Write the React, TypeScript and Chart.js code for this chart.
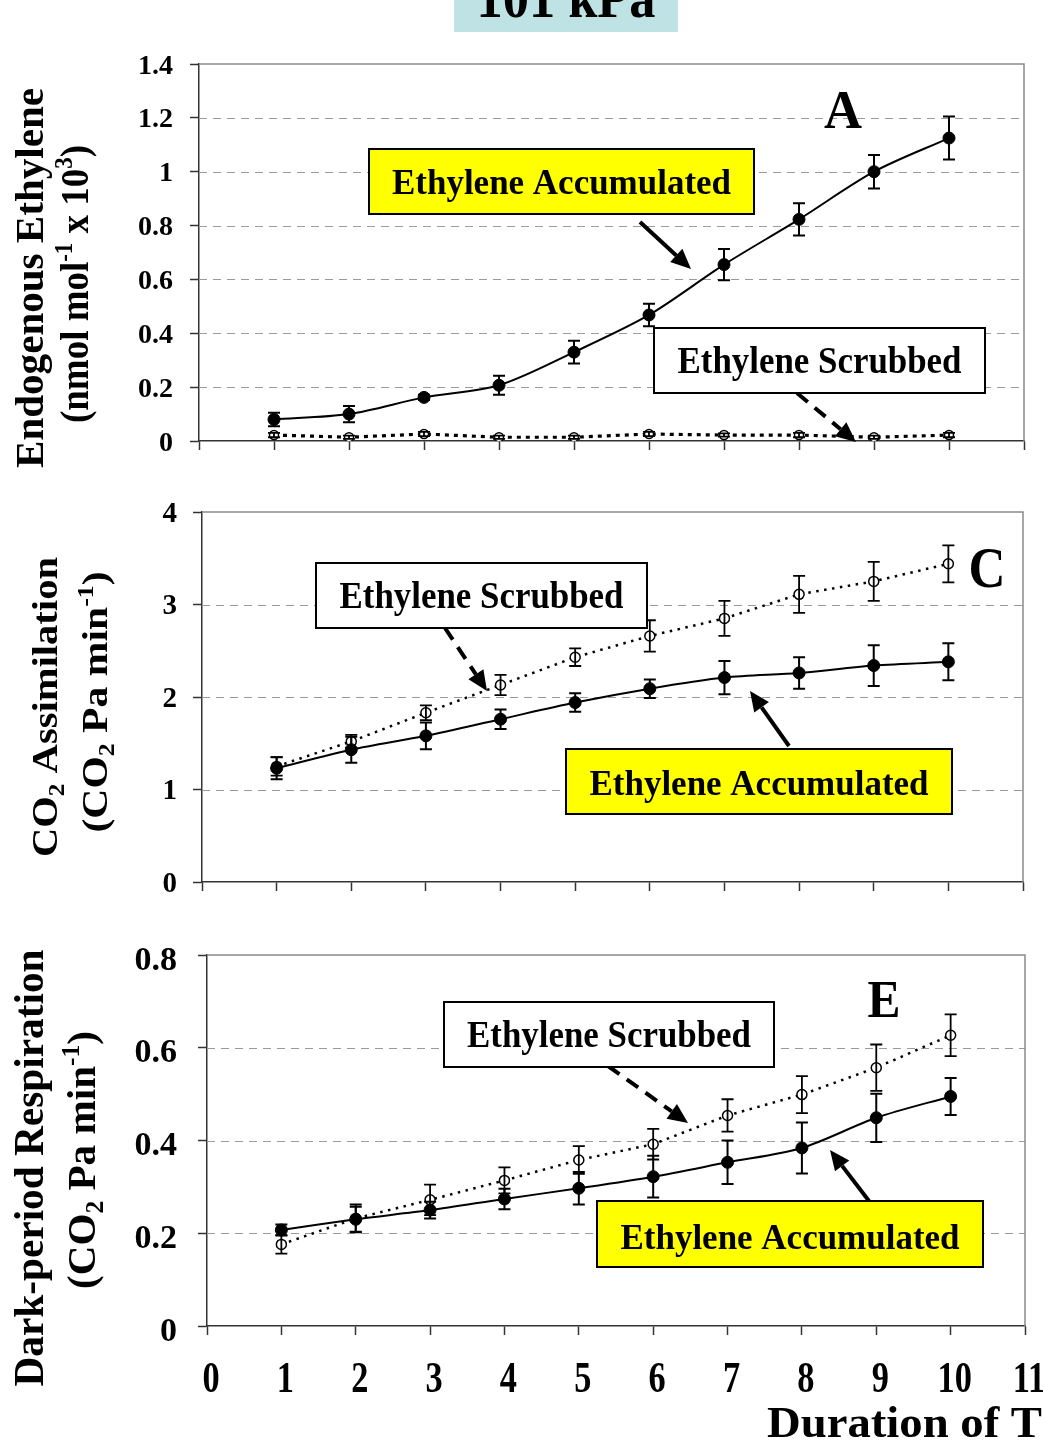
import React, { useEffect, useRef } from 'react';
import { Chart, registerables } from 'chart.js';

Chart.register(...registerables);

// ---------- data ----------
const days = [1, 2, 3, 4, 5, 6, 7, 8, 9, 10];
const xTickLabels = ['0', '1', '2', '3', '4', '5', '6', '7', '8', '9', '10', '11'];

// Panel A: endogenous ethylene (nmol mol-1 x 10^3)
const ethAccumulated = [0.08, 0.1, 0.162, 0.207, 0.33, 0.468, 0.655, 0.823, 1.0, 1.125];
const ethAccumulatedErr = [0.025, 0.03, 0.01, 0.035, 0.042, 0.042, 0.058, 0.06, 0.062, 0.08];
const ethScrubbed = [0.022, 0.014, 0.026, 0.014, 0.014, 0.026, 0.022, 0.022, 0.014, 0.022];
const ethScrubbedErr = [0.008, 0.006, 0.008, 0.006, 0.006, 0.008, 0.006, 0.008, 0.006, 0.008];

// Panel C: CO2 assimilation
const co2Accumulated = [1.23, 1.43, 1.58, 1.76, 1.94, 2.09, 2.21, 2.26, 2.34, 2.38];
const co2AccumulatedErr = [0.12, 0.14, 0.145, 0.105, 0.1, 0.1, 0.18, 0.17, 0.22, 0.2];
const co2Scrubbed = [1.25, 1.52, 1.83, 2.13, 2.43, 2.66, 2.85, 3.11, 3.25, 3.44];
const co2ScrubbedErr = [0.1, 0.07, 0.08, 0.11, 0.095, 0.17, 0.19, 0.2, 0.21, 0.2];

// Panel E: dark-period respiration
const respAccumulated = [0.207, 0.23, 0.25, 0.274, 0.297, 0.322, 0.353, 0.384, 0.449, 0.495];
const respAccumulatedErr = [0.012, 0.027, 0.018, 0.022, 0.035, 0.045, 0.047, 0.055, 0.052, 0.04];
const respScrubbed = [0.176, 0.232, 0.272, 0.314, 0.358, 0.392, 0.454, 0.499, 0.557, 0.627];
const respScrubbedErr = [0.02, 0.03, 0.033, 0.028, 0.03, 0.033, 0.035, 0.04, 0.05, 0.045];

const yTicksA = ['0', '0.2', '0.4', '0.6', '0.8', '1', '1.2', '1.4'];
const yTicksC = ['0', '1', '2', '3', '4'];
const yTicksE = ['0', '0.2', '0.4', '0.6', '0.8'];

const labelAccumulated = 'Ethylene Accumulated';
const labelScrubbed = 'Ethylene Scrubbed';
const headerText = '101 kPa';
const xAxisTitle = 'Duration of T';

// ---------- drawing helpers ----------
const FONT = "'Liberation Serif', 'Times New Roman', Times, serif";
type Seg = [string, string?];

function drawRich(
  ctx: CanvasRenderingContext2D,
  segs: Seg[],
  x: number,
  y: number,
  size: number,
  o: { align?: 'left' | 'center' | 'right'; fit?: number; sx?: number; rot?: boolean } = {}
) {
  const parts = segs.map(([t, k]) => {
    const fs = k ? size * 0.62 : size;
    ctx.font = `bold ${fs}px ${FONT}`;
    return { t, k, fs, w: ctx.measureText(t).width };
  });
  const W = parts.reduce((a, p) => a + p.w, 0);
  const s = o.fit ? o.fit / W : o.sx ?? 1;
  ctx.save();
  ctx.translate(x, y);
  if (o.rot) ctx.rotate(-Math.PI / 2);
  ctx.scale(s, 1);
  let cx = o.align === 'left' ? 0 : o.align === 'right' ? -W : -W / 2;
  ctx.fillStyle = '#000';
  ctx.textBaseline = 'alphabetic';
  ctx.textAlign = 'left';
  for (const p of parts) {
    ctx.font = `bold ${p.fs}px ${FONT}`;
    const dy = p.k === 'sup' ? -size * 0.4 : p.k === 'sub' ? size * 0.2 : 0;
    ctx.fillText(p.t, cx, dy);
    cx += p.w;
  }
  ctx.restore();
}

function drawArrow(ctx: CanvasRenderingContext2D, x1: number, y1: number, x2: number, y2: number, dashed: boolean) {
  const ang = Math.atan2(y2 - y1, x2 - x1);
  const hl = 20;
  const hw = 9;
  const bx = x2 - hl * Math.cos(ang);
  const by = y2 - hl * Math.sin(ang);
  ctx.save();
  ctx.strokeStyle = '#000';
  ctx.lineWidth = 4;
  ctx.setLineDash(dashed ? [14, 9] : []);
  ctx.beginPath();
  ctx.moveTo(x1, y1);
  ctx.lineTo(bx, by);
  ctx.stroke();
  ctx.setLineDash([]);
  ctx.fillStyle = '#000';
  ctx.beginPath();
  ctx.moveTo(x2, y2);
  ctx.lineTo(bx + hw * Math.sin(ang), by - hw * Math.cos(ang));
  ctx.lineTo(bx - hw * Math.sin(ang), by + hw * Math.cos(ang));
  ctx.closePath();
  ctx.fill();
  ctx.restore();
}

// ---------- panel layout ----------
type Box = { x: number; y: number; w: number; h: number; fill: string; text: string; ty: number; size: number; fit: number };
type Panel = {
  key: string;
  top: number;
  height: number;
  plot: { left: number; right: number; top: number; bottom: number };
  yMax: number;
  yStep: number;
  yTicks: string[];
  tickSize: number;
  tickRight: number;
  tickDy: number;
  acc: number[];
  accErr: number[];
  scr: number[];
  scrErr: number[];
  openR: number;
  dot: number[];
  dotW: number;
  titles: { segs: Seg[]; x: number; y: number; size: number; fit: number }[];
  letter: { t: string; x: number; y: number; size: number; fit: number };
  boxes: Box[];
  arrows: { x1: number; y1: number; x2: number; y2: number; d: boolean }[];
  header?: boolean;
  xLabels?: boolean;
};

const co2Line2: Seg[] = [['(CO'], ['2', 'sub'], [' Pa min'], ['-1', 'sup'], [')']];

const panels: Panel[] = [
  {
    key: 'A',
    top: 0,
    height: 475,
    plot: { left: 199, right: 1024, top: 64, bottom: 441 },
    yMax: 1.4,
    yStep: 0.2,
    yTicks: yTicksA,
    tickSize: 28,
    tickRight: 173,
    tickDy: 0,
    acc: ethAccumulated,
    accErr: ethAccumulatedErr,
    scr: ethScrubbed,
    scrErr: ethScrubbedErr,
    openR: 4.5,
    dot: [4, 5],
    dotW: 3.2,
    titles: [
      { segs: [['Endogenous Ethylene']], x: 43, y: 278, size: 41, fit: 380 },
      { segs: [['(nmol mol'], ['-1', 'sup'], [' x 10'], ['3', 'sup'], [')']], x: 88, y: 284, size: 39, fit: 278 },
    ],
    letter: { t: 'A', x: 843, y: 128, size: 54, fit: 38 },
    boxes: [
      { x: 369, y: 149, w: 385, h: 65, fill: '#ffff00', text: labelAccumulated, ty: 194, size: 36, fit: 339 },
      { x: 654, y: 328, w: 331, h: 65, fill: '#ffffff', text: labelScrubbed, ty: 373, size: 37, fit: 284 },
    ],
    arrows: [
      { x1: 640, y1: 222, x2: 691, y2: 269, d: false },
      { x1: 797, y1: 393, x2: 856, y2: 442, d: true },
    ],
    header: true,
  },
  {
    key: 'C',
    top: 480,
    height: 430,
    plot: { left: 202, right: 1023, top: 512, bottom: 882 },
    yMax: 4,
    yStep: 1,
    yTicks: yTicksC,
    tickSize: 29,
    tickRight: 177,
    tickDy: 0,
    acc: co2Accumulated,
    accErr: co2AccumulatedErr,
    scr: co2Scrubbed,
    scrErr: co2ScrubbedErr,
    openR: 5,
    dot: [2.5, 5.5],
    dotW: 2.5,
    titles: [
      { segs: [['CO'], ['2', 'sub'], [' Assimilation']], x: 57, y: 707, size: 36, fit: 300 },
      { segs: co2Line2, x: 107, y: 702, size: 36, fit: 261 },
    ],
    letter: { t: 'C', x: 987, y: 587, size: 56, fit: 37 },
    boxes: [
      { x: 316, y: 563, w: 331, h: 65, fill: '#ffffff', text: labelScrubbed, ty: 608, size: 37, fit: 284 },
      { x: 566, y: 749, w: 386, h: 65, fill: '#ffff00', text: labelAccumulated, ty: 795, size: 36, fit: 339 },
    ],
    arrows: [
      { x1: 445, y1: 628, x2: 487, y2: 691, d: true },
      { x1: 789, y1: 746, x2: 750, y2: 691, d: false },
    ],
  },
  {
    key: 'E',
    top: 925,
    height: 515,
    plot: { left: 207, right: 1025, top: 955, bottom: 1326 },
    yMax: 0.8,
    yStep: 0.2,
    yTicks: yTicksE,
    tickSize: 34,
    tickRight: 177,
    tickDy: 3,
    acc: respAccumulated,
    accErr: respAccumulatedErr,
    scr: respScrubbed,
    scrErr: respScrubbedErr,
    openR: 5,
    dot: [2.5, 5.5],
    dotW: 2.5,
    titles: [
      { segs: [['Dark-period Respiration']], x: 43, y: 1168, size: 42, fit: 437 },
      { segs: co2Line2, x: 95, y: 1160, size: 40, fit: 258 },
    ],
    letter: { t: 'E', x: 884, y: 1017, size: 52, fit: 33 },
    boxes: [
      { x: 444, y: 1002, w: 330, h: 65, fill: '#ffffff', text: labelScrubbed, ty: 1047, size: 37, fit: 284 },
      { x: 597, y: 1201, w: 386, h: 66, fill: '#ffff00', text: labelAccumulated, ty: 1249, size: 36, fit: 339 },
    ],
    arrows: [
      { x1: 608, y1: 1066, x2: 688, y2: 1123, d: true },
      { x1: 869, y1: 1201, x2: 830, y2: 1150, d: false },
    ],
    xLabels: true,
  },
];

function panelPlugin(p: Panel) {
  return {
    id: 'panel' + p.key,
    beforeDatasetsDraw(chart: any) {
      const { ctx, chartArea: a, scales } = chart;
      const y = scales.y;
      ctx.save();
      ctx.strokeStyle = '#9a9a9a';
      ctx.lineWidth = 1;
      ctx.setLineDash([8, 6]);
      p.yTicks.forEach((l) => {
        const v = parseFloat(l);
        if (v <= 0 || v >= p.yMax) return;
        const py = Math.round(y.getPixelForValue(v)) + 0.5;
        ctx.beginPath();
        ctx.moveTo(a.left, py);
        ctx.lineTo(a.right, py);
        ctx.stroke();
      });
      ctx.setLineDash([]);
      ctx.strokeStyle = '#8a8a8a';
      ctx.lineWidth = 1.5;
      ctx.beginPath();
      ctx.moveTo(a.left, a.top);
      ctx.lineTo(a.right, a.top);
      ctx.lineTo(a.right, a.bottom);
      ctx.stroke();
      ctx.restore();
    },
    afterDatasetsDraw(chart: any) {
      const { ctx, scales } = chart;
      const y = scales.y;
      ctx.save();
      ctx.strokeStyle = '#000';
      chart.data.datasets.forEach((ds: any, di: number) => {
        const meta = chart.getDatasetMeta(di);
        ctx.lineWidth = di === 0 ? 2 : 1.8;
        meta.data.forEach((pt: any, i: number) => {
          const v = ds.data[i].y;
          const e = ds.errors[i];
          const x = pt.x;
          const y1 = y.getPixelForValue(v + e);
          const y2 = y.getPixelForValue(v - e);
          ctx.beginPath();
          ctx.moveTo(x, y1);
          ctx.lineTo(x, y2);
          ctx.moveTo(x - 6, y1);
          ctx.lineTo(x + 6, y1);
          ctx.moveTo(x - 6, y2);
          ctx.lineTo(x + 6, y2);
          ctx.stroke();
        });
      });
      ctx.restore();
    },
    afterDraw(chart: any) {
      const { ctx, scales } = chart;
      const y = scales.y;
      const x = scales.x;
      // y tick labels
      p.yTicks.forEach((l) => {
        const py = y.getPixelForValue(parseFloat(l));
        drawRich(ctx, [[l]], p.tickRight, py + p.tickSize * 0.34 + p.tickDy, p.tickSize, { align: 'right' });
      });
      ctx.save();
      ctx.translate(0, -p.top);
      if (p.xLabels) {
        xTickLabels.forEach((l) => {
          const px = x.getPixelForValue(Number(l));
          drawRich(ctx, [[l]], px + 4, 1392, 44, { sx: 0.78 });
        });
        drawRich(ctx, [[xAxisTitle]], 767, 1437, 44, { align: 'left', fit: 275 });
      }
      if (p.header) {
        ctx.fillStyle = '#bfe3e5';
        ctx.fillRect(454, 0, 224, 32);
        drawRich(ctx, [[headerText]], 566, 17, 56, { fit: 179 });
      }
      p.titles.forEach((t) => drawRich(ctx, t.segs, t.x, t.y, t.size, { fit: t.fit, rot: true }));
      drawRich(ctx, [[p.letter.t]], p.letter.x, p.letter.y, p.letter.size, { fit: p.letter.fit });
      p.arrows.forEach((a) => drawArrow(ctx, a.x1, a.y1, a.x2, a.y2, a.d));
      p.boxes.forEach((b) => {
        ctx.fillStyle = b.fill;
        ctx.fillRect(b.x, b.y, b.w, b.h);
        ctx.strokeStyle = '#000';
        ctx.lineWidth = 2;
        ctx.strokeRect(b.x, b.y, b.w, b.h);
        drawRich(ctx, [[b.text]], b.x + b.w / 2, b.ty, b.size, { fit: b.fit });
      });
      ctx.restore();
    },
  };
}

function PanelChart({ p }: { p: Panel }) {
  const ref = useRef<HTMLCanvasElement>(null);
  useEffect(() => {
    const canvas = ref.current!;
    const axisCommon = {
      grid: { drawOnChartArea: false, drawTicks: true, tickLength: 9, tickColor: '#333', tickWidth: 1.5 },
      border: { display: true, color: '#333', width: 1.5 },
    };
    const chart = new Chart(canvas, {
      type: 'line',
      data: {
        datasets: [
          {
            label: labelAccumulated,
            data: days.map((d, i) => ({ x: d, y: p.acc[i] })),
            errors: p.accErr,
            borderColor: '#000',
            borderWidth: 2,
            tension: 0.3,
            pointRadius: 6,
            pointBackgroundColor: '#000',
            pointBorderColor: '#000',
            pointBorderWidth: 1,
            fill: false,
          } as any,
          {
            label: labelScrubbed,
            data: days.map((d, i) => ({ x: d, y: p.scr[i] })),
            errors: p.scrErr,
            borderColor: '#000',
            borderWidth: p.dotW,
            borderDash: p.dot,
            tension: 0,
            pointRadius: p.openR,
            pointBackgroundColor: '#fff',
            pointBorderColor: '#000',
            pointBorderWidth: 1.5,
            fill: false,
          } as any,
        ],
      },
      options: {
        animation: false,
        responsive: false,
        maintainAspectRatio: false,
        layout: { padding: { top: p.plot.top - p.top, right: 1043 - p.plot.right, left: 0, bottom: 0 } },
        plugins: { legend: { display: false }, tooltip: { enabled: false } },
        scales: {
          x: {
            type: 'linear',
            min: 0,
            max: 11,
            ticks: { stepSize: 1, display: false },
            ...axisCommon,
            afterFit: (s: any) => {
              s.height = p.top + p.height - p.plot.bottom;
            },
          },
          y: {
            type: 'linear',
            min: 0,
            max: p.yMax,
            ticks: { stepSize: p.yStep, display: false },
            ...axisCommon,
            afterFit: (s: any) => {
              s.width = p.plot.left;
            },
          },
        },
      } as any,
      plugins: [panelPlugin(p)],
    });
    return () => chart.destroy();
  }, [p]);
  return (
    <canvas
      ref={ref}
      width={1043}
      height={p.height}
      style={{ position: 'absolute', left: 0, top: p.top, width: 1043, height: p.height }}
    />
  );
}

export default function App() {
  return (
    <div style={{ position: 'absolute', left: 0, top: 0, width: 1043, height: 1440, background: '#fff', overflow: 'hidden' }}>
      {panels.map((p) => (
        <PanelChart key={p.key} p={p} />
      ))}
    </div>
  );
}
